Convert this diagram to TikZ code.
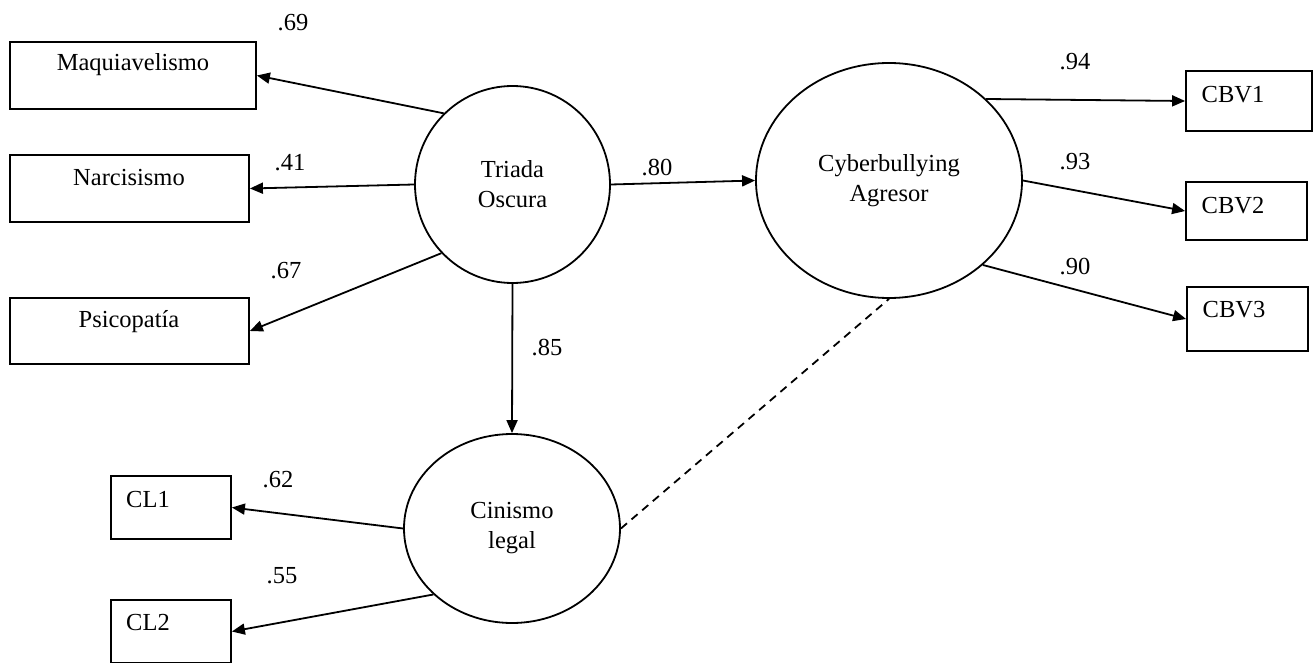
\documentclass[tikz,border=0pt]{standalone}
\usepackage{fontspec}
\setmainfont{Liberation Serif}
\usetikzlibrary{shapes.geometric,arrows.meta}
\begin{document}
\begin{tikzpicture}[x=1pt,y=-1pt,
  every node/.style={font=\fontsize{24.5}{30}\selectfont},
  box/.style={draw,line width=1.8pt,rectangle,inner sep=0pt},
  latent/.style={draw,line width=1.8pt,ellipse,inner sep=0pt,align=center},
  path/.style={line width=1.8pt,-{Triangle[length=13pt,width=11pt]}},
  corr/.style={line width=1.8pt,dash pattern=on 8pt off 6pt},
  coef/.style={inner sep=0pt}]
\useasboundingbox (0,0) rectangle (1315,663);
% indicator boxes
\node[box,minimum width=246pt,minimum height=67pt,label={[yshift=10.5pt]center:Maquiavelismo}] (maq) at (133,75.5) {};
\node[box,minimum width=239pt,minimum height=67pt,label={[yshift=10.5pt,xshift=-0.5pt]center:Narcisismo}] (nar) at (129.5,188.5) {};
\node[box,minimum width=239pt,minimum height=66pt,label={[yshift=9pt,xshift=-0.5pt]center:Psicopatía}] (psi) at (129.5,331) {};
\node[box,minimum width=126pt,minimum height=60pt,label={[yshift=6pt,xshift=-16pt]center:CBV1}] (cbv1) at (1249,101) {};
\node[box,minimum width=121pt,minimum height=58pt,label={[yshift=5pt,xshift=-13.5pt]center:CBV2}] (cbv2) at (1246.5,211) {};
\node[box,minimum width=121pt,minimum height=64pt,label={[yshift=9pt,xshift=-13.5pt]center:CBV3}] (cbv3) at (1247.5,319) {};
\node[box,minimum width=120pt,minimum height=63pt,label={[yshift=7.5pt,xshift=-23pt]center:CL1}] (cl1) at (171,507.5) {};
\node[box,minimum width=120pt,minimum height=63pt,label={[yshift=8.5pt,xshift=-23pt]center:CL2}] (cl2) at (171,631.5) {};
% latent variables
\node[latent,minimum width=195pt,minimum height=197pt] (tri) at (512.5,184.5) {Triada\\Oscura};
\node[latent,minimum width=266pt,minimum height=235pt] (cyb) at (889,180.5) {Cyberbullying\\Agresor};
\node[latent,minimum width=216pt,minimum height=189pt] (cin) at (512,528.5) {Cinismo\\legal};
% paths
\draw[path] (tri.134.6) -- (maq.east);
\draw[path] (tri.west) -- (nar.east);
\draw[path] (tri.224.6) -- (psi.east);
\draw[path] (tri.east) -- (cyb.west);
\draw[path] (tri.south) -- (cin.north);
\draw[path] (cyb.40.7) -- (cbv1.west);
\draw[path] (cyb.east) -- (cbv2.west);
\draw[path] (cyb.318.4) -- (cbv3.west);
\draw[path] (cin.west) -- (cl1.east);
\draw[path] (cin.220.5) -- (cl2.east);
\draw[corr] (cin.east) -- (cyb.south);
% coefficients
\node[coef] (l69) at (293,23) {.69};
\node[coef] (l41) at (290,163) {.41};
\node[coef] (l67) at (286,271) {.67};
\node[coef] (l80) at (657,168) {.80};
\node[coef] (l85) at (547,348) {.85};
\node[coef] (l94) at (1075,62) {.94};
\node[coef] (l93) at (1075,162) {.93};
\node[coef] (l90) at (1075,267) {.90};
\node[coef] (l62) at (278,480) {.62};
\node[coef] (l55) at (282,576) {.55};
\end{tikzpicture}
\end{document}
